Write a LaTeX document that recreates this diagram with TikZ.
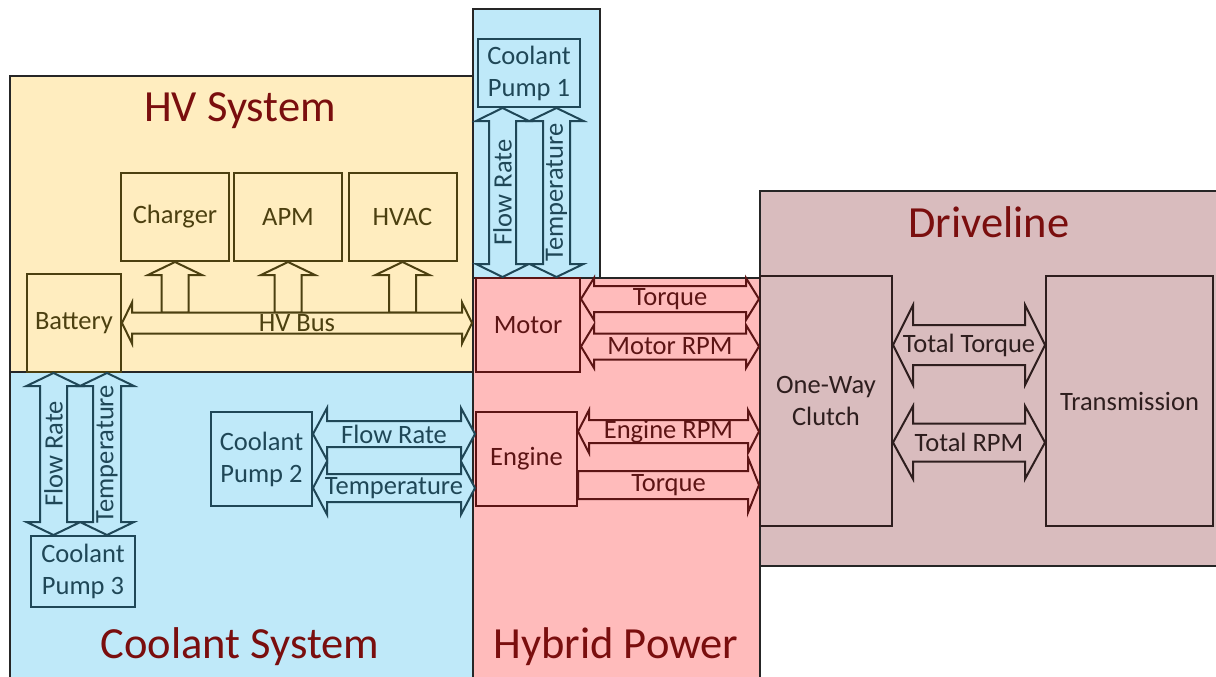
\documentclass[tikz,border=0pt]{standalone}
\usepackage{fontspec}
\setmainfont{Carlito}
\usetikzlibrary{positioning}
\usetikzlibrary{calc}

\definecolor{hvfill}{HTML}{FFEDBF}
\definecolor{hvline}{HTML}{4C4010}
\definecolor{coolfill}{HTML}{BFE9F9}
\definecolor{coolline}{HTML}{1F4757}
\definecolor{hyfill}{HTML}{FFBBBB}
\definecolor{hyline}{HTML}{5C1414}
\definecolor{drfill}{HTML}{D9BCBE}
\definecolor{drline}{HTML}{2E1E1E}
\definecolor{titlered}{HTML}{7A0E0E}

\newcommand{\boxfont}{\fontsize{26.5}{32}\selectfont}
\newcommand{\titlefont}{\fontsize{44.5}{50}\selectfont}

% fat arrows: style, first point, second point, half shaft, half head, head length
\newcommand{\fatdoubleh}[6]{%
  \draw[#1] let \p1=(#2), \p2=(#3) in
    (\p1) -- (\x1+#6,\y1+#5) -- (\x1+#6,\y1+#4) -- (\x2-#6,\y2+#4) -- (\x2-#6,\y2+#5) -- (\p2)
    -- (\x2-#6,\y2-#5) -- (\x2-#6,\y2-#4) -- (\x1+#6,\y1-#4) -- (\x1+#6,\y1-#5) -- cycle;}
\newcommand{\fatdoublev}[6]{%
  \draw[#1] let \p1=(#2), \p2=(#3) in
    (\p1) -- (\x1+#5,\y1-#6) -- (\x1+#4,\y1-#6) -- (\x2+#4,\y2+#6) -- (\x2+#5,\y2+#6) -- (\p2)
    -- (\x2-#5,\y2+#6) -- (\x2-#4,\y2+#6) -- (\x1-#4,\y1-#6) -- (\x1-#5,\y1-#6) -- cycle;}
\newcommand{\fatright}[6]{%
  \draw[#1] let \p1=(#2), \p2=(#3) in
    (\x1,\y1+#4) -- (\x2-#6,\y2+#4) -- (\x2-#6,\y2+#5) -- (\p2)
    -- (\x2-#6,\y2-#5) -- (\x2-#6,\y2-#4) -- (\x1,\y1-#4) -- cycle;}
\newcommand{\fatup}[6]{%
  \draw[#1] let \p1=(#2), \p2=(#3) in
    (\x1-#4,\y1) -- (\x2-#4,\y2-#6) -- (\x2-#5,\y2-#6) -- (\p2)
    -- (\x2+#5,\y2-#6) -- (\x2+#4,\y2-#6) -- (\x1+#4,\y1) -- cycle;}

\begin{document}
\begin{tikzpicture}[x=1pt, y=-1pt,
    panel/.style={draw=black!85, line width=1.5pt},
    blk/.style={draw=#1, text=#1, line width=2pt, font=\boxfont, align=center, inner sep=0pt},
    paneltitle/.style={text=titlered, font=\titlefont, inner sep=0pt},
    tag/.style={text=#1, font=\boxfont, inner sep=0pt},
    hvarrow/.style={draw=hvline, fill=hvfill, line width=2pt},
    coolarrow/.style={draw=coolline, fill=coolfill, line width=2pt},
    hyarrow/.style={draw=hyline, fill=hyfill, line width=2pt},
    drarrow/.style={draw=drline, fill=drfill, line width=2pt}]

  \clip (0,0) rectangle (1216,677);

  % Panels
  \draw[panel, fill=hvfill] (10,76) rectangle (473,372);
  \draw[panel, fill=coolfill] (10,372) rectangle (473,690);
  \draw[panel, fill=coolfill] (473,9) rectangle (600,278);
  \draw[panel, fill=hyfill] (473,278) rectangle (760,690);
  \draw[panel, fill=drfill] (760,191) rectangle (1230,566);

  \node[paneltitle] (hvtitle) at (240,111) {HV System};
  \node[paneltitle] (cooltitle) at (240,647) {Coolant System};
  \node[paneltitle] (hytitle) at (616,647) {Hybrid Power};
  \node[paneltitle] (drtitle) at (989,222) {Driveline};

  % HV system
  \foreach \name/\x/\txt in {charger/175/Charger, apm/288/APM, hvac/402.5/HVAC}
    \node[blk=hvline, minimum width=108pt, minimum height=88pt] (\name) at (\x,217) {\txt};
  \node[blk=hvline, minimum width=94pt, minimum height=98pt] (battery) at (74,323) {Battery};

  % Coolant pumps
  \node[blk=coolline, minimum width=102pt, minimum height=68pt] (pump1) at (529,73) {Coolant\\Pump 1};
  \node[blk=coolline, minimum width=101pt, minimum height=94pt] (pump2) at (261.5,459) {Coolant\\Pump 2};
  \node[blk=coolline, minimum width=104pt, minimum height=71pt] (pump3) at (83,571.5) {Coolant\\Pump 3};

  % Hybrid power
  \node[blk=hyline, minimum width=104pt, minimum height=94pt] (motor) at (528,325) {Motor};
  \node[blk=hyline, minimum width=101pt, minimum height=94pt] (engine) at (526.5,459) {Engine};

  % Driveline
  \node[blk=drline, minimum width=132pt, minimum height=250pt] (clutch) at (826,401) {One-Way\\Clutch};
  \node[blk=drline, minimum width=167pt, minimum height=250pt] (trans) at (1129.5,401) {Transmission};

  % Arrow end points
  \coordinate (bus-l) at (battery.east);
  \coordinate (bus-r) at ($(bus-l -| motor.west)+(-3,0)$);
  \coordinate (bus-top) at ($(bus-l)+(0,-10.5)$);
  \coordinate (c3fr-t) at ($(battery.south)+(-20.5,0)$);
  \coordinate (c3fr-b) at (c3fr-t |- pump3.north);
  \coordinate (c3tp-t) at ($(battery.south)+(33,0)$);
  \coordinate (c3tp-b) at (c3tp-t |- pump3.north);
  \coordinate (c1fr-t) at ($(pump1.south)+(-26.5,0)$);
  \coordinate (c1fr-b) at (c1fr-t |- motor.north);
  \coordinate (c1tp-t) at ($(pump1.south)+(27.5,0)$);
  \coordinate (c1tp-b) at (c1tp-t |- motor.north);
  \coordinate (c2fr-l) at ($(pump2.east)+(0,-25)$);
  \coordinate (c2fr-r) at (c2fr-l -| engine.west);
  \coordinate (c2tp-l) at ($(pump2.east)+(0,29)$);
  \coordinate (c2tp-r) at (c2tp-l -| engine.west);
  \coordinate (mtq-l) at ($(motor.east)+(0,-26)$);
  \coordinate (mtq-r) at (mtq-l -| clutch.west);
  \coordinate (mrpm-l) at ($(motor.east)+(0,21.5)$);
  \coordinate (mrpm-r) at (mrpm-l -| clutch.west);
  \coordinate (erpm-l) at ($(engine.east)+(0,-27.5)$);
  \coordinate (erpm-r) at (erpm-l -| clutch.west);
  \coordinate (etq-l) at ($(engine.east)+(0,26)$);
  \coordinate (etq-r) at (etq-l -| clutch.west);
  \coordinate (ttq-l) at ($(clutch.east)+(0,-56)$);
  \coordinate (ttq-r) at (ttq-l -| trans.west);
  \coordinate (trpm-l) at ($(clutch.east)+(0,41.5)$);
  \coordinate (trpm-r) at (trpm-l -| trans.west);

  % HV bus
  \foreach \name in {charger, apm, hvac}
    \fatup{hvarrow}{\name.south |- bus-top}{\name.south}{13.5pt}{27pt}{13pt};
  \fatdoubleh{hvarrow}{bus-l}{bus-r}{10.5pt}{20.5pt}{10pt}
  \path (bus-l) -- (bus-r) node[midway, tag=hvline] (busl) {HV Bus};

  % Coolant loops
  \fatdoublev{coolarrow}{c3fr-t}{c3fr-b}{13.5pt}{27pt}{13pt}
  \fatdoublev{coolarrow}{c3tp-t}{c3tp-b}{14pt}{27pt}{13pt}
  \fatdoublev{coolarrow}{c1fr-t}{c1fr-b}{13.5pt}{26.5pt}{13pt}
  \fatdoublev{coolarrow}{c1tp-t}{c1tp-b}{13.5pt}{27pt}{13pt}
  \fatdoubleh{coolarrow}{c2fr-l}{c2fr-r}{13pt}{26pt}{14pt}
  \fatdoubleh{coolarrow}{c2tp-l}{c2tp-r}{14pt}{26.5pt}{14pt}
  \path (c3fr-t) -- (c3fr-b) node[midway, tag=coolline, rotate=90] (c3frl) {Flow Rate};
  \path (c3tp-t) -- (c3tp-b) node[midway, tag=coolline, rotate=90] (c3tpl) {Temperature};
  \path (c1fr-t) -- (c1fr-b) node[midway, tag=coolline, rotate=90] (c1frl) {Flow Rate};
  \path (c1tp-t) -- (c1tp-b) node[midway, tag=coolline, rotate=90] (c1tpl) {Temperature};
  \path (c2fr-l) -- (c2fr-r) node[midway, tag=coolline] (c2frl) {Flow Rate};
  \path (c2tp-l) -- (c2tp-r) node[midway, tag=coolline] (c2tpl) {Temperature};

  % Hybrid power to driveline
  \fatdoubleh{hyarrow}{mtq-l}{mtq-r}{13pt}{21pt}{13pt}
  \fatdoubleh{hyarrow}{mrpm-l}{mrpm-r}{13pt}{21.5pt}{13pt}
  \fatdoubleh{hyarrow}{erpm-l}{erpm-r}{11.5pt}{21.5pt}{11pt}
  \fatright{hyarrow}{etq-l}{etq-r}{14pt}{27.5pt}{11pt}
  \path (mtq-l) -- (mtq-r) node[midway, tag=hyline] (mtql) {Torque};
  \path (mrpm-l) -- (mrpm-r) node[midway, tag=hyline] (mrpml) {Motor RPM};
  \path (erpm-l) -- (erpm-r) node[midway, tag=hyline] (erpml) {Engine RPM};
  \path (etq-l) -- (etq-r) node[midway, tag=hyline] (etql) {Torque};

  % Clutch to transmission
  \fatdoubleh{drarrow}{ttq-l}{ttq-r}{20pt}{40pt}{20pt}
  \fatdoubleh{drarrow}{trpm-l}{trpm-r}{19pt}{36.5pt}{20pt}
  \path (ttq-l) -- (ttq-r) node[midway, tag=drline] (ttql) {Total Torque};
  \path (trpm-l) -- (trpm-r) node[midway, tag=drline] (trpml) {Total RPM};
\end{tikzpicture}
\end{document}
